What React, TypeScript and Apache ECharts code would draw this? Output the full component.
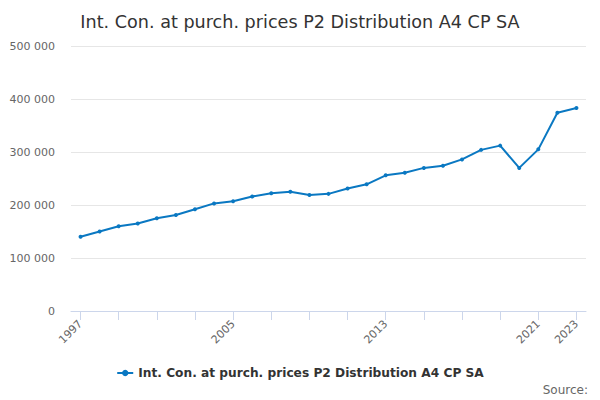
import React, { useEffect, useRef } from "react";
import * as echarts from "echarts";

const years = [
  "1997", "1998", "1999", "2000", "2001", "2002", "2003", "2004", "2005",
  "2006", "2007", "2008", "2009", "2010", "2011", "2012", "2013", "2014",
  "2015", "2016", "2017", "2018", "2019", "2020", "2021", "2022", "2023",
];
const values = [
  140000, 150000, 160000, 165000, 175000, 181000, 192000, 203000, 207000,
  216000, 222000, 225000, 219000, 221000, 231000, 239000, 256000, 261000,
  270000, 274000, 286000, 304000, 312000, 270000, 305000, 374000, 383000,
];
const labelledYears = ["1997", "2005", "2013", "2021", "2023"];
const seriesName = "Int. Con. at purch. prices P2 Distribution A4 CP SA";
const titleText = "Int. Con. at purch. prices P2 Distribution A4 CP SA";
const sourceText = "Source:";

const FONT = "'DejaVu Sans', sans-serif";
const LINE = "#0a78c2";

export default function App() {
  const ref = useRef<HTMLDivElement>(null);
  useEffect(() => {
    if (!ref.current) return;
    const chart = echarts.init(ref.current, undefined, { renderer: "svg" });
    chart.setOption({
      animation: false,
      textStyle: { fontFamily: FONT },
      title: {
        text: titleText,
        left: "center",
        top: 8,
        textStyle: { fontFamily: FONT, fontSize: 17.6, fontWeight: "normal", color: "#333333" },
      },
      grid: { left: 71, right: 14, top: 46, bottom: 89, containLabel: false },
      legend: {
        bottom: 16,
        left: "center",
        itemWidth: 16,
        itemHeight: 8,
        itemGap: 6,
        textStyle: { fontFamily: FONT, fontSize: 12.2, fontWeight: "bold", color: "#333333" },
        data: [seriesName],
      },
      xAxis: {
        type: "category",
        data: years,
        boundaryGap: true,
        axisLine: { lineStyle: { color: "#ccd6eb" } },
        axisTick: {
          show: true,
          alignWithLabel: true,
          length: 9,
          interval: 1,
          lineStyle: { color: "#ccd6eb", width: 1 },
        },
        axisLabel: {
          interval: (_i: number, v: string) => labelledYears.includes(v),
          rotate: 45,
          color: "#666666",
          fontSize: 11,
          fontFamily: FONT,
          margin: 11,
        },
        splitLine: { show: false },
      },
      yAxis: {
        type: "value",
        min: 0,
        max: 500000,
        interval: 100000,
        axisLine: { show: false },
        axisTick: { show: false },
        splitLine: { lineStyle: { color: "#e6e6e6" } },
        axisLabel: {
          color: "#666666",
          fontSize: 11,
          fontFamily: FONT,
          margin: 16,
          formatter: (v: number) => String(v).replace(/\B(?=(\d{3})+(?!\d))/g, " "),
        },
      },
      series: [
        {
          name: seriesName,
          type: "line",
          data: values,
          symbol: "circle",
          symbolSize: 4,
          lineStyle: { color: LINE, width: 2 },
          itemStyle: { color: LINE },
        },
      ],
      graphic: [
        {
          type: "text",
          right: 12,
          top: 384,
          style: { text: sourceText, fill: "#666666", fontSize: 12, fontFamily: FONT },
        },
      ],
    });
    return () => chart.dispose();
  }, []);
  return (
    <div
      ref={ref}
      style={{ position: "fixed", left: 0, top: 0, width: 600, height: 400, background: "#fff" }}
    />
  );
}
